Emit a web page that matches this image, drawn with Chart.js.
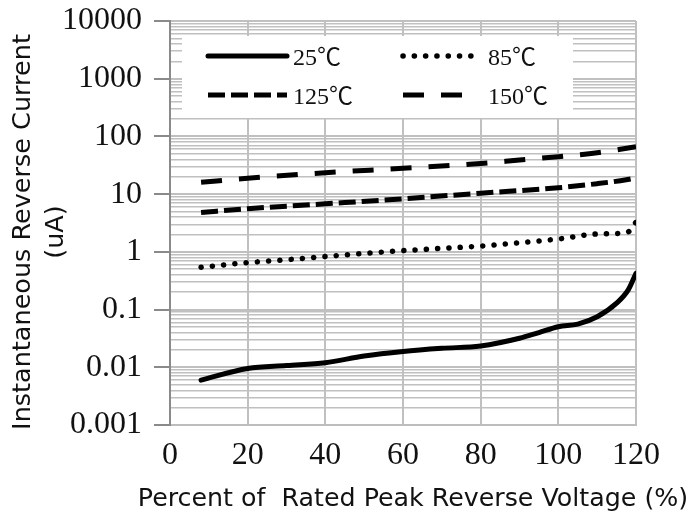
<!DOCTYPE html>
<html>
<head>
<meta charset="utf-8">
<script src="https://cdn.jsdelivr.net/npm/chart.js@4/dist/chart.umd.min.js"></script>
<style>
  html, body { margin: 0; padding: 0; background: #fff; }
  #wrap { width: 692px; height: 516px; }
</style>
</head>
<body>
<div id="wrap"><canvas id="chart" width="692" height="516"></canvas></div>
<script>
// series (percent of rated voltage -> uA)
const pct25 = [8, 20, 30, 40, 50, 60, 70, 80, 90, 95, 100, 105, 110, 115, 118, 120]
const cur25 = [0.006, 0.0095, 0.0107, 0.012, 0.0157, 0.0188, 0.0213, 0.0234, 0.0318, 0.04, 0.0505, 0.056, 0.075, 0.129, 0.219, 0.426]

const pct85 = [8, 20, 30, 40, 50, 60, 70, 80, 90, 100, 110, 116, 119, 120]
const cur85 = [0.54, 0.65, 0.73, 0.83, 0.94, 1.05, 1.15, 1.26, 1.44, 1.67, 2.04, 2.1, 2.5, 3.3]

const pct125 = [8, 20, 40, 60, 80, 100, 110, 116, 120]
const cur125 = [4.8, 5.6, 6.8, 8.3, 10.4, 12.9, 15.2, 17.1, 19]

const pct150 = [8, 20, 40, 60, 80, 90, 100, 110, 116, 120]
const cur150 = [16, 18.8, 23.5, 28, 34, 39, 44.6, 52, 60, 66]

const seriesNames = ['25℃', '85℃', '125℃', '150℃']
const xTicks = [0, 20, 40, 60, 80, 100, 120]
const yDecades = [0.001, 0.01, 0.1, 1, 10, 100, 1000, 10000]
const yTickLabels = ['0.001', '0.01', '0.1', '1', '10', '100', '1000', '10000']
const xTitle = 'Percent of  Rated Peak Reverse Voltage (%)'
const yTitle = ['Instantaneous Reverse Current', '(uA)']

const toPoints = (xs, ys) => xs.map((x, i) => ({x: x, y: ys[i]}))
const isDecade = v => yDecades.some(d => Math.abs(d - v) / d < 1e-9)

const lineBase = {
  borderColor: '#000',
  backgroundColor: '#000',
  borderWidth: 5,
  pointRadius: 0,
  fill: false,
  cubicInterpolationMode: 'monotone'
}

const data = {
  datasets: [
    {...lineBase, label: seriesNames[0], data: toPoints(pct25, cur25), borderCapStyle: 'round'},
    {...lineBase, label: seriesNames[1], data: toPoints(pct85, cur85), borderWidth: 5.5, borderDash: [0.1, 11.2], borderCapStyle: 'round'},
    {...lineBase, label: seriesNames[2], data: toPoints(pct125, cur125), borderDash: [17, 6], borderCapStyle: 'butt'},
    {...lineBase, label: seriesNames[3], data: toPoints(pct150, cur150), borderDash: [21, 17], borderCapStyle: 'butt'}
  ]
}

const labelFont = '24px "Liberation Serif", "Noto Sans CJK JP", serif'

// legend box drawn inside the plot, covering the grid
const boxLegend = {
  id: 'boxLegend',
  beforeDatasetsDraw(chart) {
    const {ctx, chartArea} = chart
    const bx = chartArea.left + 12, by = chartArea.top + 15
    ctx.save()
    ctx.fillStyle = '#fff'
    ctx.fillRect(bx, by, 391, 82)
    const spots = [
      {x: bx + 26, y: by + 20, len: 79},
      {x: bx + 221, y: by + 20, len: 70},
      {x: bx + 26, y: by + 59, len: 79},
      {x: bx + 221, y: by + 59, len: 62}
    ]
    chart.data.datasets.forEach((ds, i) => {
      const s = spots[i]
      ctx.beginPath()
      ctx.strokeStyle = ds.borderColor
      ctx.lineWidth = ds.borderWidth
      ctx.lineCap = ds.borderCapStyle || 'butt'
      ctx.setLineDash(ds.borderDash || [])
      ctx.moveTo(s.x, s.y)
      ctx.lineTo(s.x + s.len, s.y)
      ctx.stroke()
      ctx.setLineDash([])
      ctx.fillStyle = '#111'
      ctx.font = labelFont
      ctx.textBaseline = 'middle'
      ctx.textAlign = 'left'
      const tx = i % 2 === 0 ? bx + 111 : bx + 306
      ctx.fillText(ds.label, tx, s.y + 3)
    })
    ctx.restore()
  }
}

// axis titles, drawn without the width clamp the scale titles use
const axisTitles = {
  id: 'axisTitles',
  afterDraw(chart) {
    const {ctx, chartArea} = chart
    ctx.save()
    ctx.fillStyle = '#111'
    ctx.font = '25.3px "DejaVu Sans", sans-serif'
    ctx.textAlign = 'center'
    ctx.textBaseline = 'middle'
    ctx.fillText(xTitle, 413, 499)
    ctx.translate(0, (chartArea.top + chartArea.bottom) / 2 + 9)
    ctx.rotate(-Math.PI / 2)
    ctx.font = '25.5px "DejaVu Sans", sans-serif'
    ctx.fillText(yTitle[0], 0, 23)
    ctx.fillText(yTitle[1], 0, 56)
    ctx.restore()
  }
}

const ctx = document.getElementById('chart')
const config = {
  type: 'line',
  data: data,
  options: {
    responsive: false,
    animation: false,
    devicePixelRatio: 1,
    layout: {padding: {top: 21, right: 56, bottom: 0, left: 0}},
    plugins: {
      legend: {display: false},
      tooltip: {enabled: false}
    },
    scales: {
      x: {
        type: 'linear',
        min: 0,
        max: 120,
        afterBuildTicks: scale => { scale.ticks = xTicks.map(v => ({value: v})) },
        afterFit: scale => { scale.height = 91 },
        grid: {color: '#c0c0c0', lineWidth: 2, drawTicks: false},
        border: {color: '#bdbdbd', width: 2},
        ticks: {
          color: '#111',
          padding: 11,
          maxRotation: 0,
          font: {family: '"Liberation Serif", serif', size: 32}
        }
      },
      y: {
        type: 'logarithmic',
        min: 0.001,
        max: 10000,
        afterBuildTicks: scale => {
          const t = []
          for (let e = -3; e <= 4; e++) {
            for (let m = 1; m <= 9; m++) {
              const v = m * Math.pow(10, e)
              if (v <= 10000 * 1.0001) t.push({value: e < 0 ? Number(v.toFixed(-e)) : v})
            }
          }
          scale.ticks = t
        },
        afterFit: scale => {
          scale.width = 170
          scale.paddingTop = 0
          scale.paddingBottom = 0
        },
        grid: {
          color: '#c0c0c0',
          lineWidth: c => (c.tick && isDecade(c.tick.value)) ? 2 : 1.5,
          tickLength: 16,
          tickWidth: 2,
          tickColor: c => (c.tick && isDecade(c.tick.value)) ? '#8a8a8a' : 'rgba(0,0,0,0)'
        },
        border: {color: '#8a8a8a', width: 2},
        ticks: {
          autoSkip: false,
          color: '#111',
          padding: 12,
          font: {family: '"Liberation Serif", serif', size: 32},
          callback: v => {
            const i = yDecades.findIndex(d => Math.abs(d - v) / d < 1e-9)
            return i >= 0 ? yTickLabels[i] : ''
          }
        }
      }
    }
  },
  plugins: [boxLegend, axisTitles]
}
new Chart(ctx, config)
</script>
</body>
</html>
